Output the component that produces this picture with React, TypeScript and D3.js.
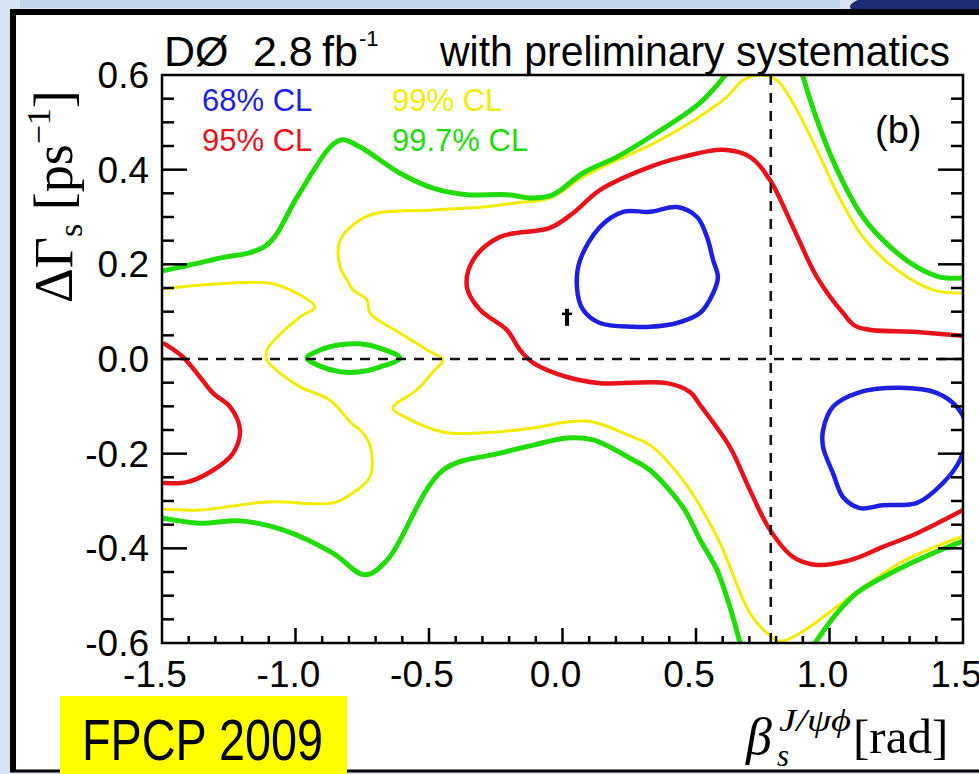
import React from "react";
import * as d3 from "d3";

type Pt = [number, number];

// Confidence-level contours in the (beta_s [rad], DeltaGamma_s [ps^-1]) plane.
const cl68Upper: Pt[] = [
  [0.054, 0.152], [0.066, 0.209], [0.14, 0.279], [0.227, 0.311], [0.328, 0.311],
  [0.429, 0.321], [0.504, 0.3], [0.541, 0.258], [0.564, 0.209], [0.582, 0.173],
  [0.564, 0.139], [0.515, 0.097], [0.429, 0.076], [0.328, 0.068], [0.264, 0.068],
  [0.14, 0.076], [0.077, 0.104],
];
const cl68Right: Pt[] = [
  [0.976, -0.15], [1.013, -0.101], [1.103, -0.072], [1.264, -0.061], [1.403, -0.072],
  [1.481, -0.104], [1.515, -0.15], [1.489, -0.213], [1.425, -0.262], [1.328, -0.304],
  [1.2, -0.309], [1.114, -0.315], [1.051, -0.292], [1.013, -0.241], [0.976, -0.186],
];

const cl95Left: Pt[] = [
  [-1.49, 0.032], [-1.421, 0.004], [-1.358, -0.038], [-1.309, -0.072], [-1.245, -0.101],
  [-1.208, -0.15], [-1.234, -0.199], [-1.309, -0.235], [-1.406, -0.26], [-1.49, -0.262],
];
const cl95Main: Pt[] = [
  [1.5, 0.049], [1.328, 0.057], [1.103, 0.068], [1.051, 0.097], [0.953, 0.173],
  [0.863, 0.279], [0.777, 0.378], [0.702, 0.427], [0.601, 0.442], [0.451, 0.427],
  [0.328, 0.406], [0.14, 0.357], [0.039, 0.308], [-0.047, 0.277], [-0.234, 0.258],
  [-0.335, 0.209], [-0.358, 0.152], [-0.309, 0.104], [-0.208, 0.061], [-0.159, 0.019],
  [-0.11, -0.008], [0.017, -0.038], [0.14, -0.051], [0.391, -0.051], [0.478, -0.07],
  [0.515, -0.097], [0.627, -0.186], [0.702, -0.277], [0.777, -0.361], [0.863, -0.418],
  [0.953, -0.435], [1.077, -0.425], [1.2, -0.397], [1.328, -0.368], [1.5, -0.319],
];

const cl99Left: Pt[] = [
  [-1.5, 0.148], [-1.358, 0.156], [-1.107, 0.161], [-1.021, 0.146], [-0.927, 0.11],
  [-0.983, 0.089], [-1.107, 0.019], [-1.107, -0.002], [-1.058, -0.03], [-0.983, -0.059],
  [-0.871, -0.087], [-0.785, -0.139], [-0.758, -0.15], [-0.721, -0.182], [-0.721, -0.249],
  [-0.796, -0.287], [-0.86, -0.304], [-1.107, -0.302], [-1.358, -0.319], [-1.5, -0.317],
];
const cl99Main: Pt[] = [
  [1.5, -0.374], [1.264, -0.431], [1.077, -0.503], [0.89, -0.579], [0.815, -0.596],
  [0.766, -0.579], [0.702, -0.537], [0.579, -0.376], [0.451, -0.256], [0.328, -0.182],
  [0.264, -0.165], [0.114, -0.133], [0.017, -0.133], [-0.11, -0.146], [-0.298, -0.156],
  [-0.433, -0.156], [-0.507, -0.144], [-0.582, -0.125], [-0.635, -0.104], [-0.545, -0.065],
  [-0.485, -0.027], [-0.448, -0.002], [-0.507, 0.019], [-0.609, 0.055], [-0.721, 0.097],
  [-0.732, 0.125], [-0.785, 0.146], [-0.807, 0.167], [-0.833, 0.194], [-0.833, 0.251],
  [-0.758, 0.294], [-0.695, 0.308], [-0.485, 0.315], [-0.298, 0.321], [-0.17, 0.33],
  [-0.047, 0.34], [0.077, 0.385], [0.204, 0.42], [0.328, 0.452], [0.451, 0.49],
  [0.616, 0.554], [0.676, 0.589], [0.74, 0.6], [0.803, 0.589], [0.863, 0.541],
  [0.953, 0.442], [1.028, 0.351], [1.125, 0.258], [1.253, 0.188], [1.388, 0.146],
  [1.5, 0.139],
];

const cl997Upper: Pt[] = [
  [-1.5, 0.186], [-1.3, 0.211], [-1.11, 0.24], [-0.994, 0.342], [-0.87, 0.448],
  [-0.826, 0.463], [-0.758, 0.448], [-0.61, 0.393], [-0.485, 0.361], [-0.358, 0.347],
  [-0.208, 0.347], [-0.11, 0.34], [-0.036, 0.347], [0.077, 0.393], [0.204, 0.427],
  [0.328, 0.469], [0.515, 0.541], [0.616, 0.604],
];
const cl997Right: Pt[] = [
  [0.897, 0.604], [0.953, 0.505], [1.028, 0.4], [1.125, 0.3], [1.227, 0.237],
  [1.328, 0.194], [1.414, 0.173], [1.5, 0.171],
];
const cl997Lower: Pt[] = [
  [-1.5, -0.336], [-1.358, -0.347], [-1.208, -0.342], [-1.047, -0.361], [-0.86, -0.41],
  [-0.74, -0.456], [-0.657, -0.425], [-0.448, -0.235], [-0.234, -0.199], [-0.11, -0.182],
  [0.017, -0.167], [0.114, -0.171], [0.264, -0.213], [0.328, -0.235], [0.451, -0.313],
  [0.515, -0.382], [0.579, -0.446], [0.627, -0.524], [0.665, -0.6],
];
const cl997LowerRight: Pt[] = [
  [0.946, -0.6], [1.028, -0.537], [1.103, -0.494], [1.2, -0.461], [1.328, -0.425],
  [1.48, -0.389], [1.5, -0.385],
];
const cl997Island: Pt[] = [
  [-0.957, 0.002], [-0.908, 0.019], [-0.833, 0.03], [-0.758, 0.032], [-0.684, 0.023],
  [-0.609, 0.002], [-0.684, -0.017], [-0.758, -0.027], [-0.833, -0.027], [-0.908, -0.015],
];

const bestFit: Pt = [0.017, 0.087];
const referenceBeta = 0.78;

const xTickValues = [-1.5, -1.0, -0.5, 0, 0.5, 1.0, 1.5];
const xTickLabels = ["-1.5", "-1.0", "-0.5", "0.0", "0.5", "1.0", "1.5"];
const yTickValues = [-0.6, -0.4, -0.2, 0, 0.2, 0.4, 0.6];
const yTickLabels = ["-0.6", "-0.4", "-0.2", "0.0", "0.2", "0.4", "0.6"];
const legendLabels = ["68% CL", "95% CL", "99% CL", "99.7% CL"];

const BLUE = "#1f1fe0";
const RED = "#e8121c";
const YELLOW = "#f2ec00";
const GREEN = "#22dc08";

const SANS = "'Liberation Sans', Arial, Helvetica, sans-serif";
const SERIF = "'Liberation Serif', 'DejaVu Serif', 'Times New Roman', serif";

export default function App() {
  const W = 979;
  const H = 774;
  const m = { left: 162, right: 963, top: 75, bottom: 643 };

  const x = d3.scaleLinear().domain([-1.5, 1.5]).range([m.left, m.right]);
  const y = d3.scaleLinear().domain([-0.6, 0.6]).range([m.bottom, m.top]);

  const openLine = d3
    .line<Pt>()
    .x((d) => x(d[0]))
    .y((d) => y(d[1]))
    .curve(d3.curveCatmullRom.alpha(0.5));
  const closedLine = d3
    .line<Pt>()
    .x((d) => x(d[0]))
    .y((d) => y(d[1]))
    .curve(d3.curveCatmullRomClosed.alpha(0.5));

  const contours = [
    { pts: cl99Left, color: YELLOW, w: 3, closed: false },
    { pts: cl99Main, color: YELLOW, w: 3, closed: false },
    { pts: cl997Upper, color: GREEN, w: 5, closed: false },
    { pts: cl997Right, color: GREEN, w: 5, closed: false },
    { pts: cl997Lower, color: GREEN, w: 5, closed: false },
    { pts: cl997LowerRight, color: GREEN, w: 5, closed: false },
    { pts: cl997Island, color: GREEN, w: 5, closed: true },
    { pts: cl95Left, color: RED, w: 4.5, closed: false },
    { pts: cl95Main, color: RED, w: 4.5, closed: false },
    { pts: cl68Upper, color: BLUE, w: 4.5, closed: true },
    { pts: cl68Right, color: BLUE, w: 4.5, closed: true },
  ];

  const isMultiple = (v: number, step: number) =>
    Math.abs(v / step - Math.round(v / step)) < 1e-6;

  const yMinor = d3.range(-0.55, 0.56, 0.05);
  const xMinor = d3.range(-1.4, 1.41, 0.1);

  const legendPos = [
    [202, 111],
    [202, 151],
    [392, 111],
    [392, 151],
  ];
  const legendColors = [BLUE, RED, YELLOW, GREEN];

  const bx = x(bestFit[0]);
  const by = y(bestFit[1]);

  return (
    <svg
      width={W}
      height={H}
      viewBox={`0 0 ${W} ${H}`}
      style={{ position: "absolute", left: 0, top: 0, display: "block" }}
    >
      <defs>
        <clipPath id="plotArea">
          <rect x={m.left} y={m.top} width={m.right - m.left} height={m.bottom - m.top} />
        </clipPath>
      </defs>

      {/* slide backdrop */}
      <rect x={0} y={0} width={W} height={H} fill="#d5e3f3" />
      <rect x={20} y={0} width={820} height={8} fill="#c2d4ea" />
      <path d="M858,0 L979,0 L979,10 L852,10 Q846,5 858,0 Z" fill="#1f2a78" />
      <rect x={13} y={12} width={W} height={759} fill="#ffffff" />
      <line x1={13} y1={12} x2={W} y2={12} stroke="#000" strokeWidth={6} />
      <line x1={13} y1={9} x2={13} y2={772} stroke="#000" strokeWidth={6} />
      <line x1={10} y1={771} x2={W} y2={771} stroke="#000" strokeWidth={3} />

      {/* title */}
      <g fontFamily={SANS} fill="#000">
        <text x={164} y={66} fontSize={43}>DØ</text>
        <text x={253} y={66} fontSize={43}>2.8</text>
        <text x={322} y={66} fontSize={43}>fb</text>
        <text x={359} y={46} fontSize={22}>-1</text>
        <text x={440} y={66} fontSize={43} textLength={510} lengthAdjust="spacingAndGlyphs">
          with preliminary systematics
        </text>
      </g>

      {/* contours */}
      <g clipPath="url(#plotArea)" fill="none" strokeLinejoin="round" strokeLinecap="round">
        {contours.map((c, i) => (
          <path
            key={i}
            d={(c.closed ? closedLine : openLine)(c.pts) || ""}
            stroke={c.color}
            strokeWidth={c.w}
          />
        ))}
      </g>

      {/* reference lines */}
      <line
        x1={m.left}
        x2={m.right}
        y1={y(0)}
        y2={y(0)}
        stroke="#111"
        strokeWidth={2.5}
        strokeDasharray="10,8"
      />
      <line
        x1={x(referenceBeta)}
        x2={x(referenceBeta)}
        y1={m.top}
        y2={m.bottom}
        stroke="#111"
        strokeWidth={2.5}
        strokeDasharray="10,8"
      />

      {/* best-fit marker */}
      <g stroke="#000" strokeLinecap="butt">
        <line x1={bx} x2={bx} y1={by - 9} y2={by + 8} strokeWidth={4} />
        <line x1={bx - 5} x2={bx + 5} y1={by - 4} y2={by - 4} strokeWidth={2.5} />
      </g>

      {/* frame */}
      <rect
        x={m.left}
        y={m.top}
        width={m.right - m.left}
        height={m.bottom - m.top}
        fill="none"
        stroke="#000"
        strokeWidth={2.5}
      />

      {/* ticks */}
      <g stroke="#000" strokeWidth={2.5}>
        {yMinor.map((v, i) => {
          const len = isMultiple(v, 0.2) ? 25 : 12;
          return (
            <g key={`yt${i}`}>
              <line x1={m.left} x2={m.left + len} y1={y(v)} y2={y(v)} />
              <line x1={m.right - len} x2={m.right} y1={y(v)} y2={y(v)} />
            </g>
          );
        })}
        {xMinor.map((v, i) => {
          const len = isMultiple(v, 0.5) ? 15 : 7;
          return <line key={`xt${i}`} x1={x(v)} x2={x(v)} y1={m.bottom} y2={m.bottom - len} />;
        })}
      </g>

      {/* tick labels */}
      <g fontFamily={SANS} fontSize={37} fill="#000">
        {yTickValues.map((v, i) => (
          <text key={`yl${i}`} x={149} y={y(v) + 13} textAnchor="end">
            {yTickLabels[i]}
          </text>
        ))}
        {xTickValues.map((v, i) => (
          <text key={`xl${i}`} x={x(v) - 7} y={687} textAnchor="middle">
            {xTickLabels[i]}
          </text>
        ))}
      </g>

      {/* legend */}
      <g fontFamily={SANS} fontSize={31}>
        {legendLabels.map((t, i) => (
          <text key={t} x={legendPos[i][0]} y={legendPos[i][1]} fill={legendColors[i]}>
            {t}
          </text>
        ))}
      </g>
      <text x={875} y={143} fontFamily={SANS} fontSize={38} fill="#000">
        (b)
      </text>

      {/* y-axis title */}
      <text
        transform="translate(72,303) rotate(-90)"
        fontFamily={SERIF}
        fontSize={54}
        fill="#000"
      >
        ΔΓ
        <tspan fontSize={34} dy={10}>s</tspan>
        <tspan dy={-10}> [ps</tspan>
        <tspan fontSize={34} dy={-22}>−1</tspan>
        <tspan dy={22}>]</tspan>
      </text>

      {/* x-axis title */}
      <g fontFamily={SERIF} fill="#000">
        <text x={746} y={754} fontSize={52} fontStyle="italic">β</text>
        <text
          x={779}
          y={731}
          fontSize={31}
          fontStyle="italic"
          textLength={72}
          lengthAdjust="spacingAndGlyphs"
        >
          J/ψϕ
        </text>
        <text x={777} y={766} fontSize={31} fontStyle="italic">s</text>
        <text x={853} y={753} fontSize={49}>[rad]</text>
      </g>

      {/* conference tag */}
      <rect x={60} y={696} width={287} height={78} fill="#ffff00" />
      <text
        x={82}
        y={760}
        fontFamily={SANS}
        fontSize={58}
        textLength={241}
        lengthAdjust="spacingAndGlyphs"
        fill="#000"
      >
        FPCP 2009
      </text>
    </svg>
  );
}
